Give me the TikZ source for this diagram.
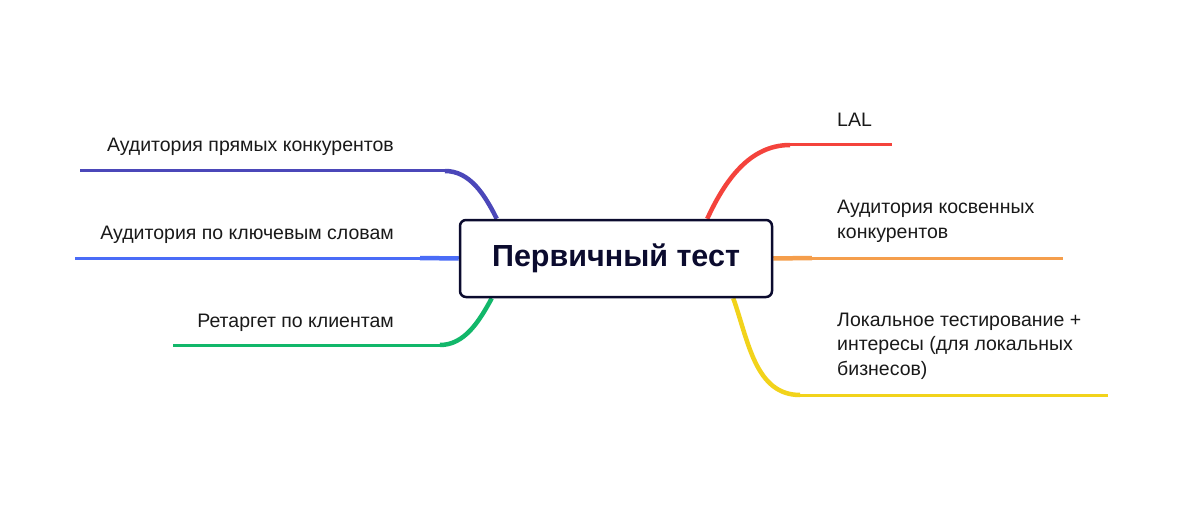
\documentclass[tikz,border=0pt]{standalone}
\usepackage{fontspec}
\setmainfont{Liberation Sans}
\usetikzlibrary{backgrounds}
\definecolor{navy}{HTML}{0B0B2E}
\definecolor{bpurple}{HTML}{4B47B9}
\definecolor{bblue}{HTML}{4A6CF7}
\definecolor{bgreen}{HTML}{12B76A}
\definecolor{bred}{HTML}{F4433C}
\definecolor{borange}{HTML}{F59E4C}
\definecolor{byellow}{HTML}{F2D31B}
\tikzset{
  leaf/.style={line width=3pt},
  stem/.style={line width=4.5pt},
  lbl/.style={font=\fontsize{19.5}{24.3}\selectfont, text=black!90, inner sep=0pt, align=left},
}
\begin{document}
\begin{tikzpicture}[x=1pt, y=-1pt]
\useasboundingbox (0,0) rectangle (1200,508);
\node[draw=navy, line width=2.5pt, rounded corners=6pt, fill=white, minimum width=312pt, minimum height=77pt,
      font=\fontsize{30.5}{36}\selectfont\bfseries, text=navy] (root) at (616,258.5) {Первичный тест};

\node[lbl, anchor=base east] (pryam) at (394,152) {Аудитория прямых конкурентов};
\node[lbl, anchor=base east] (klyuch) at (394,239) {Аудитория по ключевым словам};
\node[lbl, anchor=base east] (retarg) at (394,327) {Ретаргет по клиентам};
\node[lbl, anchor=base west] (lal) at (837,127) {LAL};
\node[lbl, anchor=base west] (kosv) at (837,238) {Аудитория косвенных\\конкурентов};
\node[lbl, anchor=base west] (lokal) at (837,375) {Локальное тестирование +\\интересы (для локальных\\бизнесов)};

\coordinate (pryamL) at (80,171);   \coordinate (pryamR) at (445,171);
\coordinate (klyuchL) at (75,258);  \coordinate (klyuchR) at (420,258);
\coordinate (retargL) at (173,345); \coordinate (retargR) at (440,345);
\coordinate (lalL) at (790,145);    \coordinate (lalR) at (892,145);
\coordinate (kosvL) at (812,258);   \coordinate (kosvR) at (1063,258);
\coordinate (lokalL) at (800,395);  \coordinate (lokalR) at (1108,395);

\begin{scope}[on background layer]
  \draw[leaf, bpurple] (pryamL) -- (pryamR);
  \draw[stem, bpurple] (pryamR) .. controls +(25,0) and +(-12,-24) .. ([xshift=38pt]root.north west);
  \draw[leaf, bblue] (klyuchL) -- (klyuchR);
  \draw[stem, bblue] (klyuchR) -- (root.west);
  \draw[leaf, bgreen] (retargL) -- (retargR);
  \draw[stem, bgreen] (retargR) .. controls +(25,0) and +(-12,22) .. ([xshift=33pt]root.south west);
  \draw[stem, bred] ([xshift=-66pt]root.north east) .. controls +(18,-39) and +(-40,0) .. (lalL);
  \draw[leaf, bred] (lalL) -- (lalR);
  \draw[stem, borange] (root.east) -- (kosvL);
  \draw[leaf, borange] (kosvL) -- (kosvR);
  \draw[stem, byellow] ([xshift=-40pt]root.south east) .. controls +(15,42) and +(-45,0) .. (lokalL);
  \draw[leaf, byellow] (lokalL) -- (lokalR);
\end{scope}
\end{tikzpicture}
\end{document}
